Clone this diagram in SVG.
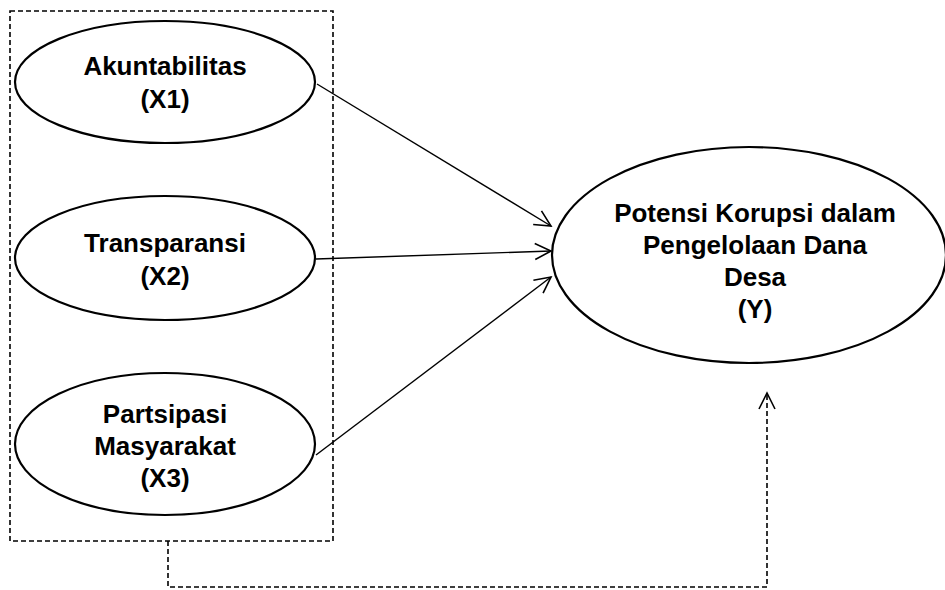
<svg xmlns="http://www.w3.org/2000/svg" width="945" height="590" viewBox="0 0 945 590">
<style>
.node{fill:#fff;stroke:#000;stroke-width:2.2}
.lbl{font-family:"Liberation Sans",Arial,sans-serif;font-weight:bold;font-size:26px;fill:#000;text-anchor:middle}
.edge{fill:none;stroke:#000;stroke-width:1.4}
.dash{fill:none;stroke:#000;stroke-width:1.6;stroke-dasharray:5,3}
.head{fill:none;stroke:#000;stroke-width:1.6;stroke-dasharray:none}
</style>
<defs>
<marker id="arr" markerUnits="userSpaceOnUse" markerWidth="20" markerHeight="20" refX="17" refY="9" orient="auto" overflow="visible">
<path d="M1,1 L17,9 L1,17" class="head"/>
</marker>
</defs>
<rect id="group-box" x="10" y="11" width="323" height="530" class="dash"/>
<g id="x1">
<ellipse cx="165" cy="82" rx="150" ry="61" class="node"/>
<text class="lbl" x="165" y="75">Akuntabilitas</text>
<text class="lbl" x="165" y="108">(X1)</text>
</g>
<g id="x2">
<ellipse cx="165" cy="258" rx="150" ry="62" class="node"/>
<text class="lbl" x="165" y="252">Transparansi</text>
<text class="lbl" x="165" y="285">(X2)</text>
</g>
<g id="x3">
<ellipse cx="165" cy="444" rx="150" ry="71" class="node"/>
<rect x="250" y="504" width="10" height="14" fill="#fff"/>
<text class="lbl" x="165" y="423">Partsipasi</text>
<text class="lbl" x="165" y="455">Masyarakat</text>
<text class="lbl" x="165" y="487">(X3)</text>
</g>
<g id="y">
<ellipse cx="749" cy="255" rx="197" ry="108" class="node"/>
<text class="lbl" x="755" y="222">Potensi Korupsi dalam</text>
<text class="lbl" x="755" y="254">Pengelolaan Dana</text>
<text class="lbl" x="755" y="286">Desa</text>
<text class="lbl" x="755" y="318">(Y)</text>
</g>
<g id="connectors">
<line x1="317" y1="84" x2="551" y2="226" class="edge" marker-end="url(#arr)"/>
<line x1="316" y1="259" x2="551" y2="251" class="edge" marker-end="url(#arr)"/>
<line x1="316" y1="455" x2="551" y2="277" class="edge" marker-end="url(#arr)"/>
<polyline points="168,541 168,587 767,587 767,393" class="dash" marker-end="url(#arr)"/>
</g>
</svg>
